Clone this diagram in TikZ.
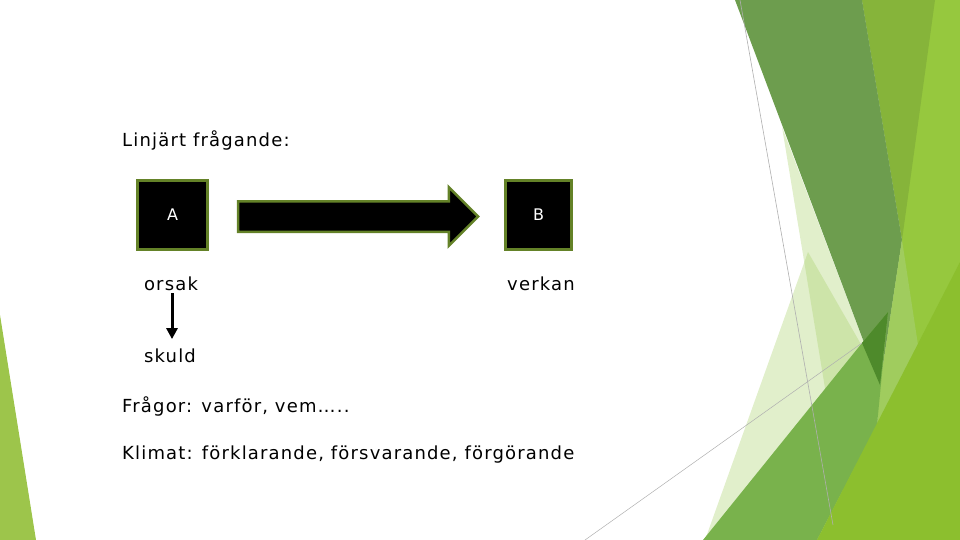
\documentclass[tikz,border=0pt]{standalone}
\usepackage{fontspec}
\setmainfont{DejaVu Sans}[LetterSpace=6.5]
\usetikzlibrary{shapes.arrows,arrows.meta}

\definecolor{rim}{RGB}{100,130,40}
\definecolor{leafbright}{RGB}{150,200,62}
\definecolor{leafolive}{RGB}{134,180,58}
\definecolor{leafdark}{RGB}{109,157,78}
\definecolor{leafmid}{RGB}{121,178,76}
\definecolor{leafdeep}{RGB}{78,138,43}
\definecolor{leaflight}{RGB}{160,204,94}
\definecolor{leafbottom}{RGB}{140,191,46}
\definecolor{leafpale}{RGB}{168,208,106}
\definecolor{leafedge}{RGB}{157,197,75}
\definecolor{hair}{RGB}{175,175,175}

\begin{document}
\begin{tikzpicture}[x=1pt,y=-1pt,
  txt/.style={font=\fontsize{18}{22}\selectfont,anchor=base west,inner sep=0pt},
  under/.style={font=\fontsize{18}{22}\selectfont,anchor=base,inner sep=3pt},
  main node/.style={rectangle,draw=rim,line width=3pt,fill=black,text=white,
    font=\fontsize{16}{18}\selectfont,minimum height=69pt},
  big arrow/.style={single arrow,draw=rim,line width=2.5pt,fill=black,
    inner xsep=0pt,inner ysep=14pt,minimum height=240pt,minimum width=58pt,
    single arrow head extend=14pt}]

  \useasboundingbox (0,0) rectangle (960,540);

  % facet background
  \fill[leafedge] (0,315) -- (36,540) -- (0,540) -- cycle;
  \fill[leafpale,fill opacity=0.35] (782,127) -- (880,385) -- (850,540) -- cycle;
  \fill[leafpale,fill opacity=0.35] (808,252) -- (870,360) -- (705,540) -- cycle;
  \fill[leafbright] (862,0) -- (960,0) -- (960,540) -- (817,540) -- (877,425)
    -- (880,385) -- (902,240) -- cycle;
  \fill[leafolive] (862,0) -- (935,0) -- (902,240) -- cycle;
  \fill[leafdark] (735,0) -- (862,0) -- (902,240) -- (880,385) -- cycle;
  \fill[leaflight] (902,240) -- (918,345) -- (877,425) -- (880,385) -- cycle;
  \fill[leafmid] (703,540) -- (862,343) -- (888,312) -- (877,425) -- (817,540) -- cycle;
  \fill[leafdeep] (862,343) -- (888,312) -- (880,385) -- cycle;
  \fill[leafbottom] (817,540) -- (960,262) -- (960,540) -- cycle;
  \draw[hair,line width=0.6pt] (740,0) -- (833,525);
  \draw[hair,line width=0.5pt] (585,540) -- (862,343);

  % slide content
  \node[txt] (title) at (122,147) {Linjärt frågande:};

  \node[main node,minimum width=70pt] (A) at (172.5,215) {A};
  \node[main node,minimum width=66pt] (B) at (538.5,215) {B};
  \node[big arrow] (pil) at (350.5,216.5) {};

  \node[under] (orsak) at (171,290) {orsak};
  \node[under] (verkan) at (541,290) {verkan};
  \node[under] (skuld) at (170,362) {skuld};
  \draw[line width=3pt,-{Triangle[length=11pt,width=11pt]},shorten >=6pt]
    (orsak.south -| 172,0) -- (skuld.north -| 172,0);

  \node[txt] (fragor) at (122,412) {Frågor: varför, vem…..};
  \node[txt] (klimat) at (122,459) {Klimat: förklarande, försvarande, förgörande};
\end{tikzpicture}
\end{document}
